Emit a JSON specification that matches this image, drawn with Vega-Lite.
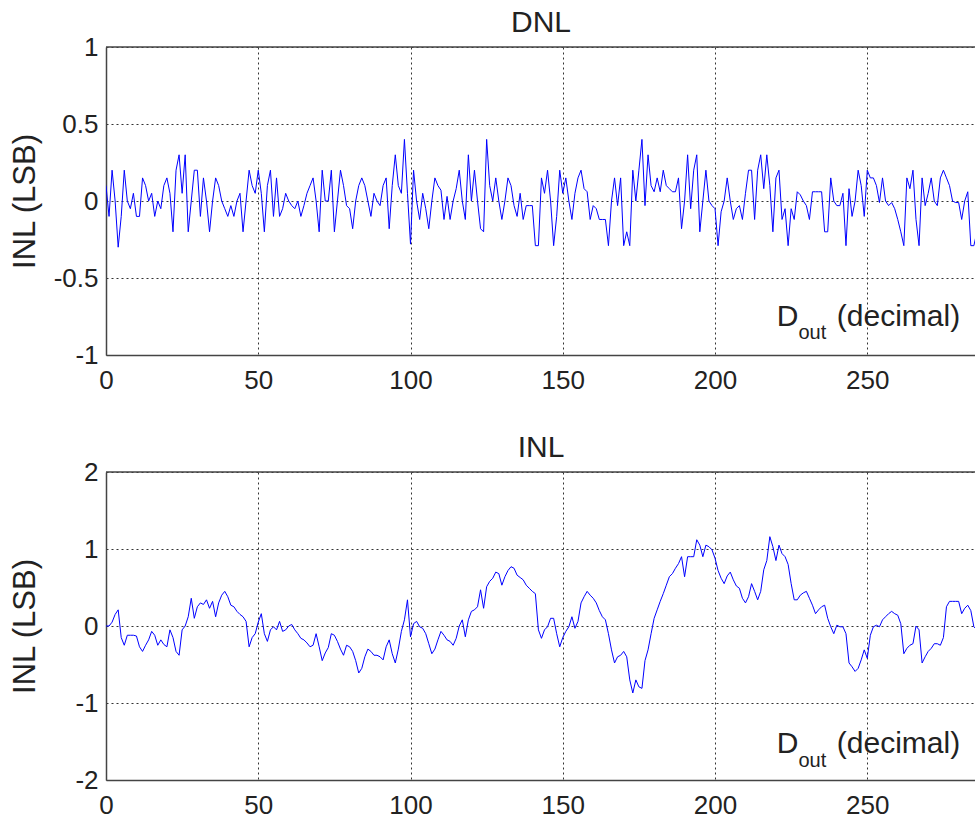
{
  "$schema": "https://vega.github.io/schema/vega-lite/v6.json",
  "padding": {"left": 9, "top": 8, "right": 0, "bottom": 0},
  "background": "white",
  "spacing": 40,
  "config": {
    "view": {"stroke": null},
    "font": "Liberation Sans",
    "axis": {
      "labelFont": "Liberation Sans",
      "labelFontSize": 26,
      "labelColor": "#222",
      "labelFlush": false,
      "labelOverlap": false,
      "ticks": false,
      "domainColor": "#444",
      "domainWidth": 1.5,
      "grid": true,
      "gridColor": "#333",
      "gridDash": [2, 3],
      "gridWidth": 1,
      "titleFont": "Liberation Sans",
      "titleFontSize": 31,
      "titleFontWeight": "normal",
      "titleColor": "#222"
    },
    "title": {"fontSize": 30, "fontWeight": "normal", "color": "#222", "font": "Liberation Sans", "offset": -4, "baseline": "alphabetic"}
  },
  "datasets": {
    "dnl": [
      {"x":0,"v":0.1},{"x":1,"v":-0.1},{"x":2,"v":0.2},{"x":3,"v":0},{"x":4,"v":-0.3},{"x":5,"v":-0.1},{"x":6,"v":0.2},{"x":7,"v":0},{"x":8,"v":-0.05},{"x":9,"v":0.05},
      {"x":10,"v":-0.1},{"x":11,"v":-0.1},{"x":12,"v":0.15},{"x":13,"v":0.1},{"x":14,"v":0},{"x":15,"v":0.05},{"x":16,"v":-0.1},{"x":17,"v":0},{"x":18,"v":-0.05},{"x":19,"v":0.1},
      {"x":20,"v":0.15},{"x":21,"v":0.05},{"x":22,"v":-0.2},{"x":23,"v":0.2},{"x":24,"v":0.3},{"x":25,"v":0.05},{"x":26,"v":0.3},{"x":27,"v":-0.2},{"x":28,"v":0},{"x":29,"v":0.2},
      {"x":30,"v":0.2},{"x":31,"v":-0.1},{"x":32,"v":0.15},{"x":33,"v":0},{"x":34,"v":-0.2},{"x":35,"v":0},{"x":36,"v":0.15},{"x":37,"v":0.1},{"x":38,"v":0},{"x":39,"v":-0.05},
      {"x":40,"v":-0.1},{"x":41,"v":-0.03},{"x":42,"v":-0.1},{"x":43,"v":0},{"x":44,"v":0.05},{"x":45,"v":-0.2},{"x":46,"v":0},{"x":47,"v":0.2},{"x":48,"v":0.1},{"x":49,"v":0.05},
      {"x":50,"v":0.2},{"x":51,"v":0.05},{"x":52,"v":-0.2},{"x":53,"v":0.1},{"x":54,"v":0.2},{"x":55,"v":-0.1},{"x":56,"v":0.15},{"x":57,"v":-0.1},{"x":58,"v":-0.05},{"x":59,"v":0.05},
      {"x":60,"v":0},{"x":61,"v":-0.03},{"x":62,"v":-0.05},{"x":63,"v":0},{"x":64,"v":-0.1},{"x":65,"v":-0.03},{"x":66,"v":0.05},{"x":67,"v":0.1},{"x":68,"v":0.15},{"x":69,"v":0},
      {"x":70,"v":-0.2},{"x":71,"v":0.2},{"x":72,"v":0},{"x":73,"v":0},{"x":74,"v":0.2},{"x":75,"v":-0.2},{"x":76,"v":0},{"x":77,"v":0.2},{"x":78,"v":0.1},{"x":79,"v":-0.03},
      {"x":80,"v":-0.05},{"x":81,"v":-0.18},{"x":82,"v":0},{"x":83,"v":0.1},{"x":84,"v":0.15},{"x":85,"v":0.1},{"x":86,"v":0},{"x":87,"v":-0.1},{"x":88,"v":0.05},{"x":89,"v":0},
      {"x":90,"v":-0.03},{"x":91,"v":0.1},{"x":92,"v":0.15},{"x":93,"v":-0.18},{"x":94,"v":0.1},{"x":95,"v":0.3},{"x":96,"v":0.1},{"x":97,"v":0.05},{"x":98,"v":0.4},{"x":99,"v":0.05},
      {"x":100,"v":-0.28},{"x":101,"v":0.2},{"x":102,"v":0},{"x":103,"v":-0.12},{"x":104,"v":0.05},{"x":105,"v":-0.05},{"x":106,"v":-0.18},{"x":107,"v":0},{"x":108,"v":0.15},{"x":109,"v":0.1},
      {"x":110,"v":0.07},{"x":111,"v":-0.12},{"x":112,"v":0.03},{"x":113,"v":-0.12},{"x":114,"v":0},{"x":115,"v":0.08},{"x":116,"v":0.2},{"x":117,"v":0},{"x":118,"v":-0.12},{"x":119,"v":0.3},
      {"x":120,"v":0},{"x":121,"v":0.2},{"x":122,"v":0},{"x":123,"v":-0.18},{"x":124,"v":-0.2},{"x":125,"v":0.4},{"x":126,"v":0.1},{"x":127,"v":0},{"x":128,"v":0.15},{"x":129,"v":0},
      {"x":130,"v":-0.12},{"x":131,"v":0},{"x":132,"v":0.15},{"x":133,"v":0.1},{"x":134,"v":-0.03},{"x":135,"v":-0.1},{"x":136,"v":0.05},{"x":137,"v":-0.12},{"x":138,"v":-0.03},{"x":139,"v":-0.03},
      {"x":140,"v":-0.03},{"x":141,"v":-0.29},{"x":142,"v":-0.29},{"x":143,"v":0.15},{"x":144,"v":0.05},{"x":145,"v":0.2},{"x":146,"v":0},{"x":147,"v":-0.29},{"x":148,"v":-0.1},{"x":149,"v":0.2},
      {"x":150,"v":0.05},{"x":151,"v":0.15},{"x":152,"v":0},{"x":153,"v":-0.12},{"x":154,"v":0.05},{"x":155,"v":0.15},{"x":156,"v":0.2},{"x":157,"v":0.08},{"x":158,"v":0.06},{"x":159,"v":-0.12},
      {"x":160,"v":-0.03},{"x":161,"v":-0.05},{"x":162,"v":-0.12},{"x":163,"v":-0.12},{"x":164,"v":-0.12},{"x":165,"v":-0.29},{"x":166,"v":0},{"x":167,"v":0.15},{"x":168,"v":-0.03},{"x":169,"v":0.15},
      {"x":170,"v":-0.29},{"x":171,"v":-0.2},{"x":172,"v":-0.29},{"x":173,"v":0.2},{"x":174,"v":0},{"x":175,"v":0.2},{"x":176,"v":0.4},{"x":177,"v":-0.03},{"x":178,"v":0.3},{"x":179,"v":0.1},
      {"x":180,"v":0.06},{"x":181,"v":0.15},{"x":182,"v":0.06},{"x":183,"v":0.2},{"x":184,"v":0.1},{"x":185,"v":0.08},{"x":186,"v":0.06},{"x":187,"v":0.06},{"x":188,"v":0.15},{"x":189,"v":-0.18},
      {"x":190,"v":0},{"x":191,"v":0.3},{"x":192,"v":-0.05},{"x":193,"v":0.2},{"x":194,"v":0.3},{"x":195,"v":-0.2},{"x":196,"v":0},{"x":197,"v":0.2},{"x":198,"v":0},{"x":199,"v":-0.03},
      {"x":200,"v":-0.05},{"x":201,"v":-0.29},{"x":202,"v":-0.07},{"x":203,"v":0},{"x":204,"v":0.15},{"x":205,"v":0},{"x":206,"v":-0.12},{"x":207,"v":-0.05},{"x":208,"v":-0.03},{"x":209,"v":-0.12},
      {"x":210,"v":0.05},{"x":211,"v":0.2},{"x":212,"v":0.2},{"x":213,"v":-0.12},{"x":214,"v":0.2},{"x":215,"v":0.3},{"x":216,"v":0.08},{"x":217,"v":0.3},{"x":218,"v":0.1},{"x":219,"v":-0.2},
      {"x":220,"v":0.15},{"x":221,"v":0.2},{"x":222,"v":-0.12},{"x":223,"v":-0.05},{"x":224,"v":-0.29},{"x":225,"v":-0.05},{"x":226,"v":-0.12},{"x":227,"v":0.06},{"x":228,"v":0.04},{"x":229,"v":0},
      {"x":230,"v":-0.03},{"x":231,"v":-0.12},{"x":232,"v":0.06},{"x":233,"v":0.06},{"x":234,"v":0.06},{"x":235,"v":0.06},{"x":236,"v":-0.2},{"x":237,"v":-0.2},{"x":238,"v":0.15},{"x":239,"v":0},
      {"x":240,"v":-0.03},{"x":241,"v":-0.03},{"x":242,"v":0.05},{"x":243,"v":-0.29},{"x":244,"v":0.08},{"x":245,"v":-0.1},{"x":246,"v":0},{"x":247,"v":0.2},{"x":248,"v":0.1},{"x":249,"v":-0.1},
      {"x":250,"v":0.2},{"x":251,"v":0.15},{"x":252,"v":0.15},{"x":253,"v":0.1},{"x":254,"v":-0.01},{"x":255,"v":0.15},{"x":256,"v":0},{"x":257,"v":-0.03},{"x":258,"v":-0.01},{"x":259,"v":-0.05},
      {"x":260,"v":-0.12},{"x":261,"v":-0.2},{"x":262,"v":-0.29},{"x":263,"v":0.15},{"x":264,"v":0.08},{"x":265,"v":0.2},{"x":266,"v":-0.12},{"x":267,"v":-0.29},{"x":268,"v":0.15},{"x":269,"v":-0.03},
      {"x":270,"v":0.05},{"x":271,"v":0.15},{"x":272,"v":0},{"x":273,"v":-0.03},{"x":274,"v":0.15},{"x":275,"v":0.2},{"x":276,"v":0.15},{"x":277,"v":0.1},{"x":278,"v":0},{"x":279,"v":-0.01},
      {"x":280,"v":-0.01},{"x":281,"v":-0.12},{"x":282,"v":0},{"x":283,"v":0.06},{"x":284,"v":-0.29},{"x":285,"v":-0.29},{"x":286,"v":-0.2}
    ],
    "inl": [
      {"x":0,"v":0},{"x":1,"v":0},{"x":2,"v":0.05},{"x":3,"v":0.15},{"x":4,"v":0.21},{"x":5,"v":-0.15},{"x":6,"v":-0.25},{"x":7,"v":-0.12},{"x":8,"v":-0.12},{"x":9,"v":-0.12},
      {"x":10,"v":-0.13},{"x":11,"v":-0.27},{"x":12,"v":-0.33},{"x":13,"v":-0.25},{"x":14,"v":-0.18},{"x":15,"v":-0.07},{"x":16,"v":-0.12},{"x":17,"v":-0.25},{"x":18,"v":-0.18},{"x":19,"v":-0.24},
      {"x":20,"v":-0.27},{"x":21,"v":-0.05},{"x":22,"v":-0.15},{"x":23,"v":-0.33},{"x":24,"v":-0.38},{"x":25,"v":-0.05},{"x":26,"v":0},{"x":27,"v":0.12},{"x":28,"v":0.36},{"x":29,"v":0.1},
      {"x":30,"v":0.25},{"x":31,"v":0.3},{"x":32,"v":0.28},{"x":33,"v":0.34},{"x":34,"v":0.23},{"x":35,"v":0.32},{"x":36,"v":0.12},{"x":37,"v":0.3},{"x":38,"v":0.4},{"x":39,"v":0.45},
      {"x":40,"v":0.38},{"x":41,"v":0.27},{"x":42,"v":0.25},{"x":43,"v":0.19},{"x":44,"v":0.15},{"x":45,"v":0.12},{"x":46,"v":0.06},{"x":47,"v":-0.27},{"x":48,"v":-0.15},{"x":49,"v":-0.1},
      {"x":50,"v":0.05},{"x":51,"v":0.16},{"x":52,"v":-0.1},{"x":53,"v":-0.2},{"x":54,"v":-0.05},{"x":55,"v":-0.01},{"x":56,"v":-0.05},{"x":57,"v":0.06},{"x":58,"v":-0.07},{"x":59,"v":-0.05},
      {"x":60,"v":0},{"x":61,"v":0.02},{"x":62,"v":-0.05},{"x":63,"v":-0.1},{"x":64,"v":-0.16},{"x":65,"v":-0.18},{"x":66,"v":-0.22},{"x":67,"v":-0.27},{"x":68,"v":-0.25},{"x":69,"v":-0.1},
      {"x":70,"v":-0.27},{"x":71,"v":-0.45},{"x":72,"v":-0.35},{"x":73,"v":-0.28},{"x":74,"v":-0.1},{"x":75,"v":-0.12},{"x":76,"v":-0.2},{"x":77,"v":-0.3},{"x":78,"v":-0.38},{"x":79,"v":-0.25},
      {"x":80,"v":-0.27},{"x":81,"v":-0.33},{"x":82,"v":-0.45},{"x":83,"v":-0.61},{"x":84,"v":-0.55},{"x":85,"v":-0.4},{"x":86,"v":-0.3},{"x":87,"v":-0.33},{"x":88,"v":-0.38},{"x":89,"v":-0.38},
      {"x":90,"v":-0.4},{"x":91,"v":-0.44},{"x":92,"v":-0.27},{"x":93,"v":-0.18},{"x":94,"v":-0.36},{"x":95,"v":-0.48},{"x":96,"v":-0.3},{"x":97,"v":-0.07},{"x":98,"v":0.08},{"x":99,"v":0.34},
      {"x":100,"v":-0.14},{"x":101,"v":0.03},{"x":102,"v":0.06},{"x":103,"v":-0.01},{"x":104,"v":-0.03},{"x":105,"v":-0.1},{"x":106,"v":-0.23},{"x":107,"v":-0.36},{"x":108,"v":-0.3},{"x":109,"v":-0.18},
      {"x":110,"v":-0.07},{"x":111,"v":-0.12},{"x":112,"v":-0.18},{"x":113,"v":-0.2},{"x":114,"v":-0.25},{"x":115,"v":-0.16},{"x":116,"v":0},{"x":117,"v":0.08},{"x":118,"v":-0.14},{"x":119,"v":0.08},
      {"x":120,"v":0.19},{"x":121,"v":0.21},{"x":122,"v":0.25},{"x":123,"v":0.47},{"x":124,"v":0.23},{"x":125,"v":0.51},{"x":126,"v":0.58},{"x":127,"v":0.62},{"x":128,"v":0.7},{"x":129,"v":0.68},
      {"x":130,"v":0.53},{"x":131,"v":0.64},{"x":132,"v":0.72},{"x":133,"v":0.77},{"x":134,"v":0.75},{"x":135,"v":0.66},{"x":136,"v":0.63},{"x":137,"v":0.6},{"x":138,"v":0.53},{"x":139,"v":0.49},
      {"x":140,"v":0.45},{"x":141,"v":0.42},{"x":142,"v":-0.05},{"x":143,"v":-0.16},{"x":144,"v":-0.05},{"x":145,"v":-0.01},{"x":146,"v":0.1},{"x":147,"v":0.1},{"x":148,"v":-0.1},{"x":149,"v":-0.27},
      {"x":150,"v":-0.15},{"x":151,"v":-0.07},{"x":152,"v":-0.01},{"x":153,"v":0.12},{"x":154,"v":-0.03},{"x":155,"v":0.06},{"x":156,"v":0.3},{"x":157,"v":0.38},{"x":158,"v":0.45},{"x":159,"v":0.4},
      {"x":160,"v":0.36},{"x":161,"v":0.3},{"x":162,"v":0.2},{"x":163,"v":0.12},{"x":164,"v":0.08},{"x":165,"v":-0.1},{"x":166,"v":-0.31},{"x":167,"v":-0.48},{"x":168,"v":-0.4},{"x":169,"v":-0.38},
      {"x":170,"v":-0.33},{"x":171,"v":-0.4},{"x":172,"v":-0.7},{"x":173,"v":-0.87},{"x":174,"v":-0.7},{"x":175,"v":-0.79},{"x":176,"v":-0.81},{"x":177,"v":-0.45},{"x":178,"v":-0.31},{"x":179,"v":-0.1},
      {"x":180,"v":0.1},{"x":181,"v":0.21},{"x":182,"v":0.32},{"x":183,"v":0.42},{"x":184,"v":0.53},{"x":185,"v":0.64},{"x":186,"v":0.68},{"x":187,"v":0.75},{"x":188,"v":0.81},{"x":189,"v":0.9},
      {"x":190,"v":0.64},{"x":191,"v":0.9},{"x":192,"v":0.9},{"x":193,"v":0.9},{"x":194,"v":1.12},{"x":195,"v":1.05},{"x":196,"v":0.9},{"x":197,"v":1.05},{"x":198,"v":1.03},{"x":199,"v":0.99},
      {"x":200,"v":0.88},{"x":201,"v":0.72},{"x":202,"v":0.62},{"x":203,"v":0.55},{"x":204,"v":0.65},{"x":205,"v":0.7},{"x":206,"v":0.6},{"x":207,"v":0.52},{"x":208,"v":0.49},{"x":209,"v":0.36},
      {"x":210,"v":0.3},{"x":211,"v":0.38},{"x":212,"v":0.55},{"x":213,"v":0.45},{"x":214,"v":0.34},{"x":215,"v":0.45},{"x":216,"v":0.73},{"x":217,"v":0.85},{"x":218,"v":1.16},{"x":219,"v":1.03},
      {"x":220,"v":0.85},{"x":221,"v":1.05},{"x":222,"v":0.94},{"x":223,"v":0.9},{"x":224,"v":0.8},{"x":225,"v":0.55},{"x":226,"v":0.34},{"x":227,"v":0.34},{"x":228,"v":0.4},{"x":229,"v":0.43},
      {"x":230,"v":0.45},{"x":231,"v":0.36},{"x":232,"v":0.27},{"x":233,"v":0.16},{"x":234,"v":0.21},{"x":235,"v":0.25},{"x":236,"v":0.27},{"x":237,"v":0.1},{"x":238,"v":-0.01},{"x":239,"v":-0.1},
      {"x":240,"v":0.01},{"x":241,"v":-0.01},{"x":242,"v":-0.01},{"x":243,"v":-0.1},{"x":244,"v":-0.48},{"x":245,"v":-0.53},{"x":246,"v":-0.59},{"x":247,"v":-0.55},{"x":248,"v":-0.44},{"x":249,"v":-0.31},
      {"x":250,"v":-0.42},{"x":251,"v":-0.12},{"x":252,"v":-0.01},{"x":253,"v":0.01},{"x":254,"v":-0.01},{"x":255,"v":0.08},{"x":256,"v":0.12},{"x":257,"v":0.16},{"x":258,"v":0.19},{"x":259,"v":0.16},
      {"x":260,"v":0.14},{"x":261,"v":0.03},{"x":262,"v":-0.36},{"x":263,"v":-0.29},{"x":264,"v":-0.25},{"x":265,"v":-0.23},{"x":266,"v":0},{"x":267,"v":-0.05},{"x":268,"v":-0.48},{"x":269,"v":-0.4},
      {"x":270,"v":-0.33},{"x":271,"v":-0.29},{"x":272,"v":-0.23},{"x":273,"v":-0.23},{"x":274,"v":-0.25},{"x":275,"v":-0.15},{"x":276,"v":0.25},{"x":277,"v":0.32},{"x":278,"v":0.32},{"x":279,"v":0.32},
      {"x":280,"v":0.32},{"x":281,"v":0.16},{"x":282,"v":0.23},{"x":283,"v":0.27},{"x":284,"v":0.2},{"x":285,"v":-0.01},{"x":286,"v":-0.05}
    ],
    "annMain": [
      {"panel": "DNL", "x": 220.3, "v": -0.812, "t": "D"},
      {"panel": "DNL", "x": 240.0, "v": -0.812, "t": "(decimal)"},
      {"panel": "INL", "x": 220.3, "v": -1.65, "t": "D"},
      {"panel": "INL", "x": 240.0, "v": -1.65, "t": "(decimal)"}
    ],
    "annSub": [
      {"panel": "DNL", "x": 227.4, "v": -0.896, "t": "out"},
      {"panel": "INL", "x": 227.4, "v": -1.83, "t": "out"}
    ]
  },
  "vconcat": [
    {
      "title": "DNL",
      "width": 870,
      "height": 308,
      "layer": [
        {
          "data": {"name": "dnl"},
          "mark": {"type": "line", "color": "#0000ff", "strokeWidth": 1, "clip": true},
          "encoding": {
            "x": {"field": "x", "type": "quantitative", "scale": {"domain": [0, 285.7], "nice": false, "zero": false}, "axis": {"values": [0, 50, 100, 150, 200, 250], "title": null, "labelPadding": 12}},
            "y": {"field": "v", "type": "quantitative", "scale": {"domain": [-1, 1], "nice": false}, "axis": {"values": [-1, -0.5, 0, 0.5, 1], "labelExpr": "'' + datum.value", "title": "INL (LSB)", "labelPadding": 8, "titlePadding": 10, "minExtent": 55, "maxExtent": 55}}
          }
        },
        {
          "data": {"name": "annMain"},
          "transform": [{"filter": "datum.panel === 'DNL'"}],
          "mark": {"type": "text", "align": "left", "baseline": "alphabetic", "fontSize": 30, "color": "#222", "font": "Liberation Sans"},
          "encoding": {
            "x": {"field": "x", "type": "quantitative"},
            "y": {"field": "v", "type": "quantitative"},
            "text": {"field": "t"}
          }
        },
        {
          "data": {"name": "annSub"},
          "transform": [{"filter": "datum.panel === 'DNL'"}],
          "mark": {"type": "text", "align": "left", "baseline": "alphabetic", "fontSize": 20, "color": "#222", "font": "Liberation Sans"},
          "encoding": {
            "x": {"field": "x", "type": "quantitative"},
            "y": {"field": "v", "type": "quantitative"},
            "text": {"field": "t"}
          }
        },
        {
          "data": {"name": "annMain"},
          "transform": [{"filter": "datum.panel === 'DNL'"}, {"filter": "datum.t === 'D'"}],
          "mark": {"type": "rule", "color": "#444", "strokeWidth": 1.5},
          "encoding": {"y": {"datum": 1, "type": "quantitative"}}
        }
      ]
    },
    {
      "title": "INL",
      "width": 870,
      "height": 308,
      "layer": [
        {
          "data": {"name": "inl"},
          "mark": {"type": "line", "color": "#0000ff", "strokeWidth": 1, "clip": true},
          "encoding": {
            "x": {"field": "x", "type": "quantitative", "scale": {"domain": [0, 285.7], "nice": false, "zero": false}, "axis": {"values": [0, 50, 100, 150, 200, 250], "title": null, "labelPadding": 12}},
            "y": {"field": "v", "type": "quantitative", "scale": {"domain": [-2, 2], "nice": false}, "axis": {"values": [-2, -1, 0, 1, 2], "labelExpr": "'' + datum.value", "title": "INL (LSB)", "labelPadding": 8, "titlePadding": 10, "minExtent": 55, "maxExtent": 55}}
          }
        },
        {
          "data": {"name": "annMain"},
          "transform": [{"filter": "datum.panel === 'INL'"}],
          "mark": {"type": "text", "align": "left", "baseline": "alphabetic", "fontSize": 30, "color": "#222", "font": "Liberation Sans"},
          "encoding": {
            "x": {"field": "x", "type": "quantitative"},
            "y": {"field": "v", "type": "quantitative"},
            "text": {"field": "t"}
          }
        },
        {
          "data": {"name": "annSub"},
          "transform": [{"filter": "datum.panel === 'INL'"}],
          "mark": {"type": "text", "align": "left", "baseline": "alphabetic", "fontSize": 20, "color": "#222", "font": "Liberation Sans"},
          "encoding": {
            "x": {"field": "x", "type": "quantitative"},
            "y": {"field": "v", "type": "quantitative"},
            "text": {"field": "t"}
          }
        },
        {
          "data": {"name": "annMain"},
          "transform": [{"filter": "datum.panel === 'INL'"}, {"filter": "datum.t === 'D'"}],
          "mark": {"type": "rule", "color": "#444", "strokeWidth": 1.5},
          "encoding": {"y": {"datum": 2, "type": "quantitative"}}
        }
      ]
    }
  ]
}
